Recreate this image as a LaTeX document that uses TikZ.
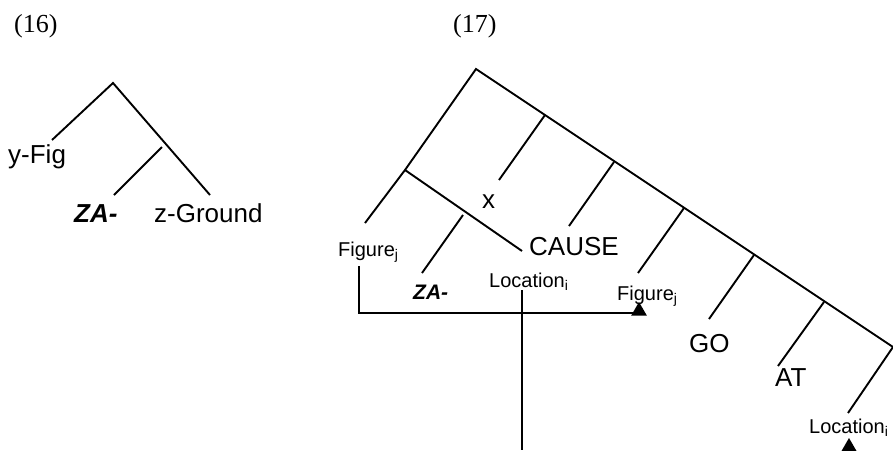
\documentclass[tikz,border=0pt]{standalone}
\usepackage{fontspec}
\setmainfont{Liberation Serif}
\setsansfont{Liberation Sans}
\usetikzlibrary{shapes.geometric}
\begin{document}
\begin{tikzpicture}[x=1pt,y=-1pt,
  branch/.style={line width=1.9pt},
  big/.style={font=\sffamily\fontsize{26}{26}\selectfont,inner sep=0pt,anchor=base west},
  small/.style={font=\sffamily\fontsize{20}{20}\selectfont,inner sep=0pt,anchor=base west},
  num/.style={font=\rmfamily\fontsize{26}{26}\selectfont,inner sep=0pt,anchor=base west},
  tri/.style={regular polygon,regular polygon sides=3,fill=black,inner sep=0pt,minimum size=18pt}]
\useasboundingbox (0,0) rectangle (893,450);
% ---------- (16) ----------
\node[num] (n16) at (14,32) {(16)};
\coordinate (a0) at (113,83);
\coordinate (a1) at (52,140);
\coordinate (a2) at (210,195);
\coordinate (a3) at (162,147);
\coordinate (a4) at (114,195);
\draw[branch] (a1) -- (a0) -- (a2);
\draw[branch] (a3) -- (a4);
\node[big] (yfig) at (8,163) {y-Fig};
\node[big] (za1) at (74,222) {\textbf{\textit{ZA-}}};
\node[big] (zg) at (154,222) {z-Ground};
% ---------- (17) ----------
\node[num] (n17) at (453,32) {(17)};
\coordinate (r0) at (476,69);
\coordinate (rE) at (893,347);
\coordinate (l1) at (405,170);
\coordinate (l2) at (365,223);
\coordinate (m1) at (522,251);
\coordinate (m2) at (463,215);
\coordinate (m3) at (422,273);
\draw[branch] (l2) -- (l1) -- (r0) -- (rE);
\draw[branch] (l1) -- (m1);
\draw[branch] (m2) -- (m3);
\coordinate (s1) at (545,115); \coordinate (t1) at (499,180);
\coordinate (s2) at (614,162); \coordinate (t2) at (569,226);
\coordinate (s3) at (684,208); \coordinate (t3) at (638,273);
\coordinate (s4) at (754,255); \coordinate (t4) at (709,319);
\coordinate (s5) at (824,302); \coordinate (t5) at (778,366);
\coordinate (t6) at (848,413);
\draw[branch] (s1) -- (t1);
\draw[branch] (s2) -- (t2);
\draw[branch] (s3) -- (t3);
\draw[branch] (s4) -- (t4);
\draw[branch] (s5) -- (t5);
\draw[branch] (rE) -- (t6);
\node[big] (x) at (482,208) {x};
\node[big] (cause) at (529,255) {CAUSE};
\node[small] (figL) at (338,256) {Figure\textsubscript{j}};
\node[big,font=\sffamily\bfseries\itshape\fontsize{21}{21}\selectfont] (za2) at (413,299) {ZA-};
\node[small] (locM) at (489,287) {Location\textsubscript{i}};
\node[small] (figR) at (617,300) {Figure\textsubscript{j}};
\node[big] (go) at (689,352) {GO};
\node[big] (at) at (775,386) {AT};
\node[small] (locR) at (809,433) {Location\textsubscript{i}};
% triangles and connectors
\node[tri] (tri1) at (639,311) {};
\node[tri] (tri2) at (849,447) {};
\coordinate (h1) at (359,266);
\coordinate (h2) at (634,313);
\draw[branch] (h1) |- (h2);
\coordinate (v1) at (522,290);
\coordinate (v2) at (522,450);
\draw[branch] (v1) -- (v2);
\end{tikzpicture}
\end{document}
